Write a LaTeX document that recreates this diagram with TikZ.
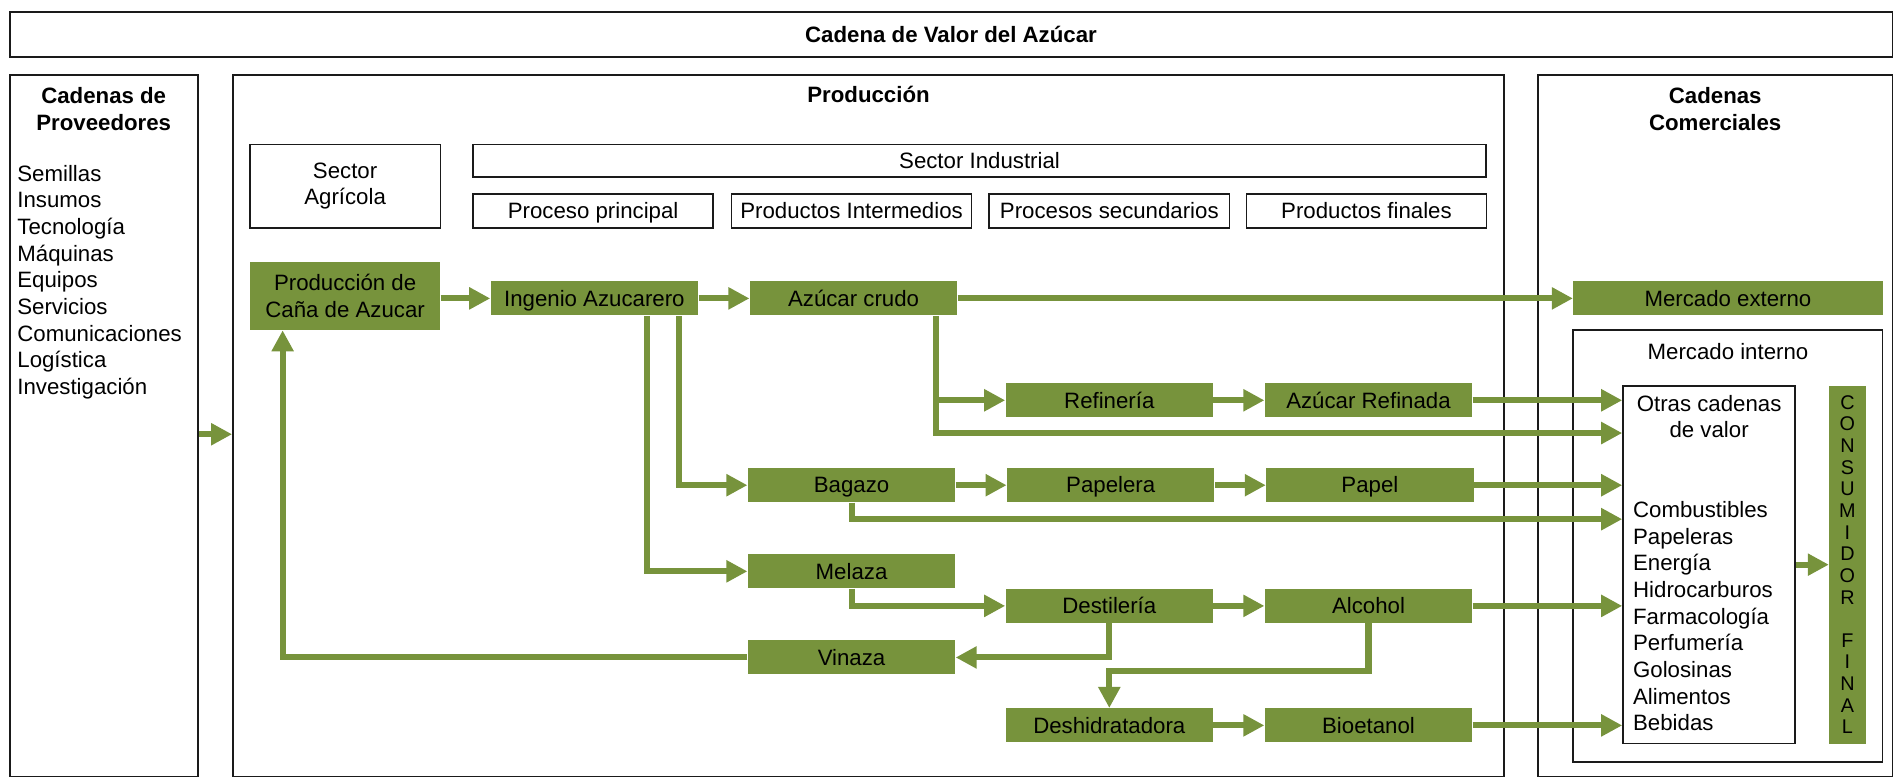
\documentclass[tikz,border=0pt]{standalone}
\usepackage{fontspec}
\setmainfont{Liberation Sans}
\usepackage{xcolor}
\usepackage{tikz}
\usetikzlibrary{arrows.meta, positioning}
\definecolor{cane}{HTML}{77933C}
\definecolor{frame}{HTML}{1A1A1A}
\tikzset{
  panel/.style={rectangle, draw=frame, line width=0.8pt, inner sep=0pt},
  headblock/.style={rectangle, draw=frame, line width=0.8pt, fill=white, align=center, inner sep=2pt},
  headbox/.style={headblock, text height=9pt, text depth=1.3pt},
  stageblock/.style={rectangle, fill=cane, align=center, minimum width=102.6pt, minimum height=16.8pt, inner sep=2pt},
  stage/.style={stageblock, text height=9pt, text depth=1.3pt},
  flow/.style={-{Triangle[length=10.4pt, width=10.4pt]}, line width=3pt, draw=cane},
  headtext/.style={font=\fontsize{11}{13.2}\selectfont\bfseries, align=center},
}

\begin{document}
\begin{tikzpicture}[x=0.6pt, y=-0.6pt, node distance=25.2pt, font=\fontsize{11}{13.2}\selectfont]
  \useasboundingbox (0,0) rectangle (1568,642);
  \node[headbox, minimum width=931.2pt, minimum height=22.2pt, headtext] (cadena) at (784,28.5) {Cadena de Valor del Azúcar};
  \node[panel, minimum width=93pt, minimum height=346.8pt] (prov) at (85.5,351) {};
  \node[panel, minimum width=628.8pt, minimum height=346.8pt] (prod) at (716,351) {};
  \node[panel, minimum width=175.2pt, minimum height=346.8pt] (com) at (1414,351) {};
  \node[headtext] (provtitle) at (85.5,90) {Cadenas de\\Proveedores};
  \node[headtext] (prodtitle) at (716,78) {Producción};
  \node[headtext] (comtitle) at (1414,90) {Cadenas\\Comerciales};
  \node[anchor=west, align=left, inner sep=0pt] (insumos) at (14,232.5) {Semillas\\Insumos\\Tecnología\\Máquinas\\Equipos\\Servicios\\Comunicaciones\\Logística\\Investigación};

  \node[headblock, minimum width=94.2pt, minimum height=41.4pt] (agricola) at (284.5,153.5) {Sector\\Agrícola};
  \node[headbox, minimum width=501pt, minimum height=16.2pt] (industrial) at (807.5,132.5) {Sector Industrial};
  \node[headbox, minimum width=118.8pt, minimum height=16.8pt] (hprincipal) at (489,174) {Proceso principal};
  \node[headbox, minimum width=118.8pt, minimum height=16.8pt] (hintermedio) at (702,174) {Productos Intermedios};
  \node[headbox, minimum width=118.8pt, minimum height=16.8pt] (hsecundario) at (914.5,174) {Procesos secundarios};
  \node[headbox, minimum width=118.8pt, minimum height=16.8pt] (hfinal) at (1126.5,174) {Productos finales};

  \node[stageblock, minimum width=94.2pt, minimum height=33.6pt] (cana) at (284.5,244) {Producción de\\Caña de Azucar};
  \node[stage] (ingenio) at (490,246) {Ingenio Azucarero};
  \node[stage, right=of ingenio] (crudo) {Azúcar crudo};
  \node[stage] (refineria) at (914.5,330) {Refinería};
  \node[stage, right=of refineria] (refinada) {Azúcar Refinada};
  \node[stage] (bagazo) at (702,400) {Bagazo};
  \node[stage, right=of bagazo] (papelera) {Papelera};
  \node[stage, right=of papelera] (papel) {Papel};
  \node[stage] (melaza) at (702,471) {Melaza};
  \node[stage] (destileria) at (914.5,499.5) {Destilería};
  \node[stage, right=of destileria] (alcohol) {Alcohol};
  \node[stage] (vinaza) at (702,542) {Vinaza};
  \node[stage] (deshid) at (914.5,598) {Deshidratadora};
  \node[stage, right=of deshid] (bioetanol) {Bioetanol};

  \node[stage, minimum width=153pt] (externo) at (1424.5,246) {Mercado externo};
  \node[panel, minimum width=153pt, minimum height=213.6pt] (interno) at (1424.5,450) {};
  \node (internotitle) at (1424.5,290) {Mercado interno};
  \node[panel, minimum width=85.2pt, minimum height=177pt] (otras) at (1409,465.5) {};
  \node[align=center] (otrastitle) at (1409,343.5) {Otras cadenas\\de valor};
  \node[anchor=west, align=left, inner sep=0pt] (sectores) at (1346,508) {Combustibles\\Papeleras\\Energía\\Hidrocarburos\\Farmacología\\Perfumería\\Golosinas\\Alimentos\\Bebidas};
  \node[stageblock, minimum width=18pt, minimum height=177pt, inner sep=0pt, font=\fontsize{9.8}{10.7}\selectfont] (consumidor) at (1523,465.5) {C\\O\\N\\S\\U\\M\\I\\D\\O\\R\\[10.7pt]F\\I\\N\\A\\L};

  \draw[flow] ([yshift=-4.2pt]prov.east) -- ([yshift=-4.2pt]prod.west);
  \draw[flow] (cana.east |- ingenio.west) -- (ingenio.west);
  \draw[flow] (ingenio) -- (crudo);
  \draw[flow] (crudo.east) -- (externo.west);
  \draw[flow] ([xshift=41pt]crudo.south) |- (refineria.west);
  \draw[flow] ([xshift=41pt]crudo.south) |- (otras.west |- 0,357);
  \draw[flow] (refineria) -- (refinada);
  \draw[flow] (refinada.east) -- (otras.west |- refinada);
  \draw[flow] ([xshift=42pt]ingenio.south) |- (bagazo.west);
  \draw[flow] ([xshift=25.8pt]ingenio.south) |- (melaza.west);
  \draw[flow] (bagazo) -- (papelera);
  \draw[flow] (papelera) -- (papel);
  \draw[flow] (papel.east) -- (otras.west |- papel);
  \draw[flow] (bagazo.south) |- (otras.west |- 0,428);
  \draw[flow] (melaza.south) |- (destileria.west);
  \draw[flow] (destileria) -- (alcohol);
  \draw[flow] (alcohol.east) -- (otras.west |- alcohol);
  \draw[flow] (destileria.south) |- (vinaza.east);
  \draw[flow] (vinaza.west) -| ([xshift=-30.9pt]cana.south);
  \draw[flow] (alcohol.south) -- ++(0pt,-23.4pt) -| (deshid.north);
  \draw[flow] (deshid) -- (bioetanol);
  \draw[flow] (bioetanol.east) -- (otras.west |- bioetanol);
  \draw[flow] (otras.east) -- (consumidor.west);
\end{tikzpicture}
\end{document}
